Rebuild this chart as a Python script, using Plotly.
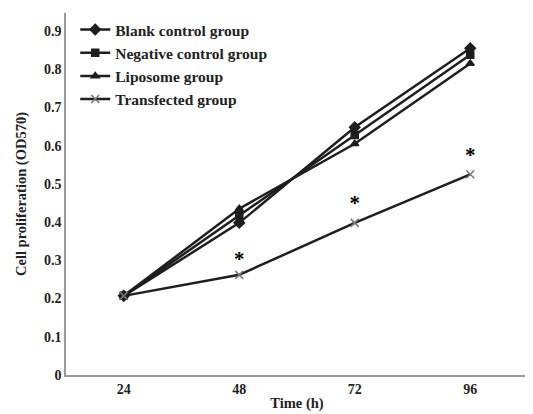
import plotly.graph_objects as go

times = ["24", "48", "72", "96"]
blank = [0.207, 0.398, 0.648, 0.855]
negative = [0.207, 0.418, 0.628, 0.838]
liposome = [0.207, 0.435, 0.605, 0.815]
transfected = [0.207, 0.262, 0.398, 0.525]
star_x = ["48", "72", "96"]
star_y = [0.300, 0.445, 0.572]

font_family = "Liberation Serif"
line_col = "#1e1e1e"

fig = go.Figure()
series = [
    ("Blank control group", blank, "diamond", 8, line_col),
    ("Negative control group", negative, "square", 7, line_col),
    ("Liposome group", liposome, "triangle-up", 7, line_col),
    ("Transfected group", transfected, "x-thin", 8, "#777777"),
]
for name, vals, sym, size, mcol in series:
    fig.add_trace(go.Scatter(
        x=times, y=vals, name=name, mode="lines+markers",
        line=dict(color=line_col, width=2.5),
        marker=dict(symbol=sym, size=size, color=mcol,
                    line=dict(color=mcol, width=1.5)),
    ))

fig.add_trace(go.Scatter(
    x=star_x, y=star_y, mode="text", text=["*"] * len(star_x),
    textfont=dict(family=font_family, size=21, color="#000000", weight="bold"),
    showlegend=False, hoverinfo="skip",
))

# page body has an 8px margin, so the figure is sized to end at the window edge
fig.update_layout(
    width=525, height=406,
    margin=dict(l=58, r=5, t=5, b=36),
    paper_bgcolor="white", plot_bgcolor="white",
    font=dict(family=font_family, size=14, color="#222222"),
    showlegend=True,
    legend=dict(x=0.02, y=1.0, xanchor="left", yanchor="top",
                bgcolor="rgba(0,0,0,0)", tracegroupgap=0,
                font=dict(family=font_family, size=15.5, color="#222222", weight="bold"),
                itemwidth=30),
)
fig.update_xaxes(
    type="category", range=[-0.5, 3.5],
    showline=True, linecolor="#999999", linewidth=1.5,
    showgrid=False, ticks="", zeroline=False,
    tickfont=dict(family=font_family, size=14, weight="bold"),
    title=dict(text="Time (h)", standoff=2,
               font=dict(family=font_family, size=14.5, weight="bold")),
)
fig.update_yaxes(
    range=[0, 0.947], tickvals=[0, 0.1, 0.2, 0.3, 0.4, 0.5, 0.6, 0.7, 0.8, 0.9],
    ticktext=["0", "0.1", "0.2", "0.3", "0.4", "0.5", "0.6", "0.7", "0.8", "0.9"],
    showline=True, linecolor="#999999", linewidth=1.5,
    showgrid=False, ticks="", zeroline=False,
    tickfont=dict(family=font_family, size=14, weight="bold"),
    title=dict(text="Cell proliferation (OD570)", standoff=14,
               font=dict(family=font_family, size=14.5, weight="bold")),
)

fig.write_html("out.html")
